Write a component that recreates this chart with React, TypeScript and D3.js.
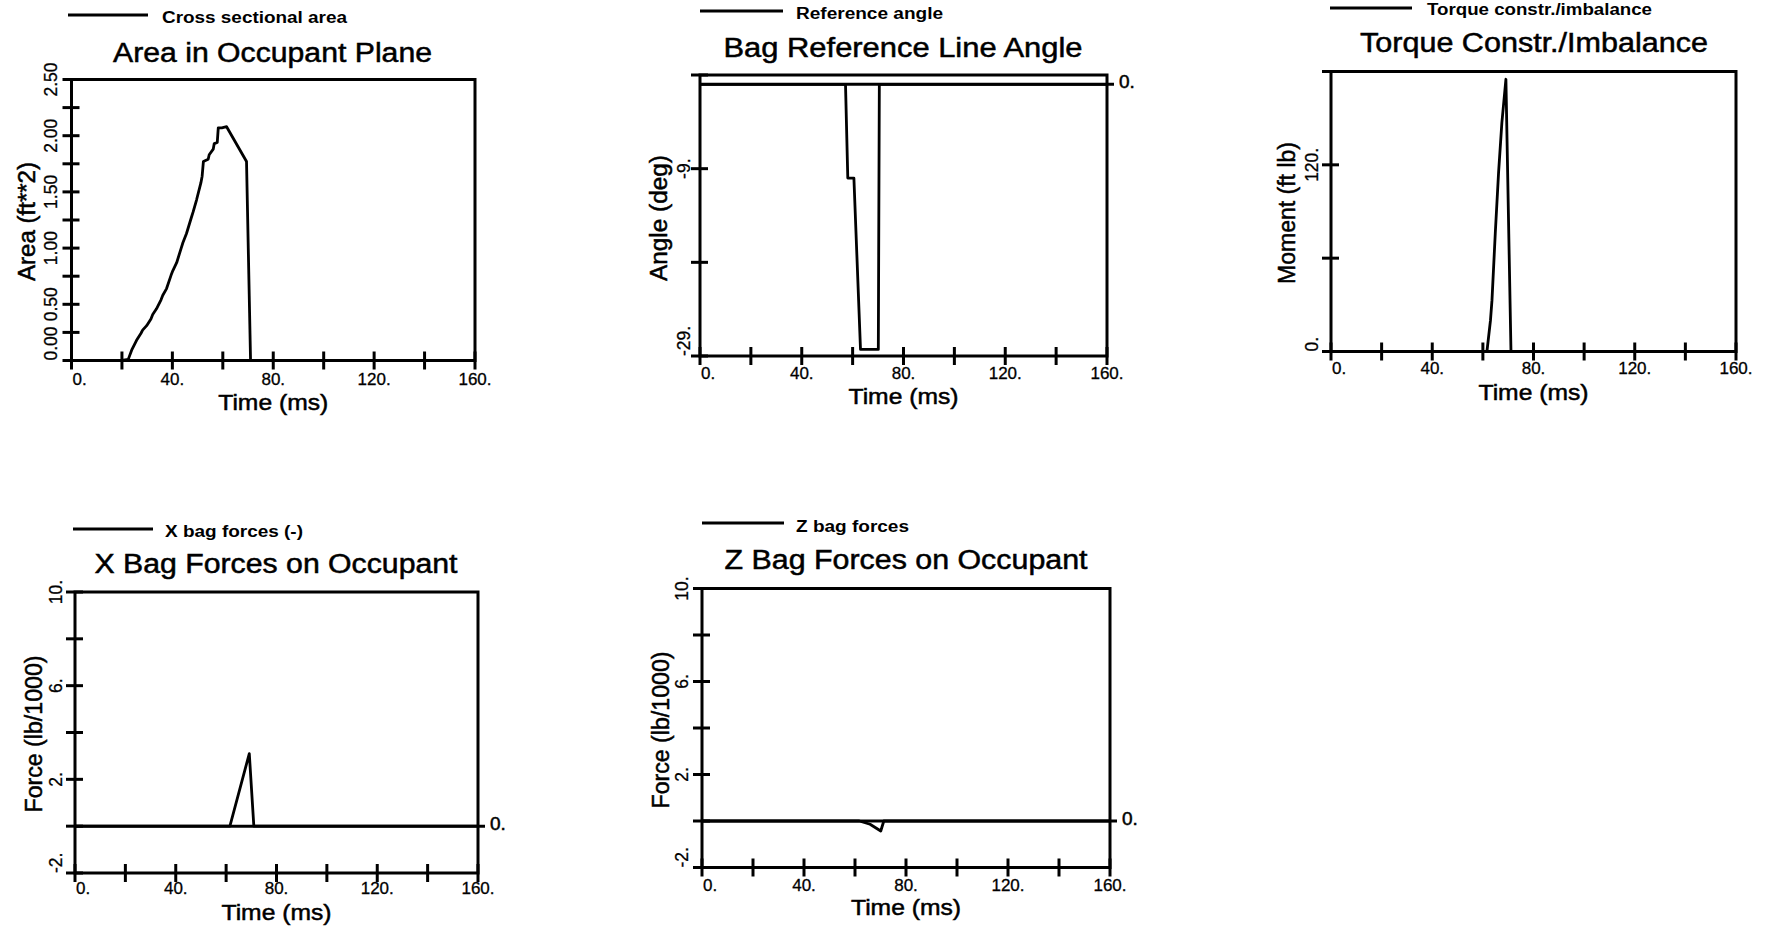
import React from "react";
import * as d3 from "d3";

// ---------- shared time axis ----------
const timeTicks = [0, 20, 40, 60, 80, 100, 120, 140, 160];
const timeLabelValues = [0, 40, 80, 120, 160];
const timeLabels = ["0.", "40.", "80.", "120.", "160."];

// ---------- Area in Occupant Plane ----------
const areaTime = [0, 20, 22.5, 24, 25.8, 27.5, 28.2, 29.8, 31.5, 32.2, 33.7, 35.5, 36.2, 37.7, 39.5, 40.2, 41.7, 43.5, 44.2, 45.6, 47.5, 48.2, 49.6, 51.3, 51.8, 52.3, 54.2, 54.6, 56.2, 56.6, 57.8, 58.2, 59.6, 61.5, 69.4, 71.0, 160];
const areaValue = [0, 0, 0.01, 0.1, 0.18, 0.24, 0.27, 0.31, 0.37, 0.41, 0.46, 0.54, 0.58, 0.64, 0.76, 0.8, 0.87, 1.0, 1.05, 1.13, 1.27, 1.32, 1.43, 1.58, 1.64, 1.77, 1.79, 1.83, 1.88, 1.93, 1.94, 2.07, 2.07, 2.08, 1.77, 0, 0];
const areaTicks = [0, 0.25, 0.5, 0.75, 1, 1.25, 1.5, 1.75, 2, 2.25, 2.5];
const areaLabelValues = [0, 0.5, 1, 1.5, 2, 2.5];
const areaLabels = ["0.00", "0.50", "1.00", "1.50", "2.00", "2.50"];

// ---------- Bag Reference Line Angle ----------
const angleTime = [0, 57.2, 58.1, 60.5, 63.1, 70.1, 70.5, 160];
const angleValue = [0, 0, -10, -10, -28.3, -28.3, 0, 0];
const angleTicks = [-29, -19, -9, 1];
const angleLabelValues = [-29, -9];
const angleLabels = ["-29.", "-9."];

// ---------- Torque Constr./Imbalance ----------
const torqueTime = [0, 61.6, 63.0, 63.6, 64.9, 66.2, 67.5, 69.1, 71.1, 160];
const torqueValue = [0, 0, 20, 33, 76, 115, 147, 175, 0, 0];
const torqueTicks = [0, 60, 120, 180];
const torqueLabelValues = [0, 120];
const torqueLabels = ["0.", "120."];

// ---------- X Bag Forces ----------
const xForceTime = [0, 61.5, 69.2, 71.0, 160];
const xForceValue = [0, 0, 3.1, 0, 0];

// ---------- Z Bag Forces ----------
const zForceTime = [0, 61.7, 65.9, 70.1, 71.3, 160];
const zForceValue = [0, 0, -0.14, -0.43, 0, 0];

const forceTicks = [-2, 0, 2, 4, 6, 8, 10];
const forceLabelValues = [-2, 2, 6, 10];
const forceLabels = ["-2.", "2.", "6.", "10."];

const FONT = "'Liberation Sans', Arial, Helvetica, sans-serif";

type PanelSpec = {
  left: number; right: number; top: number; bottom: number;
  yDomain: [number, number];
  t: number[]; v: number[];
  yTicks: number[]; yLabelValues: number[]; yLabels: string[];
  zeroRef: boolean;
  legend: { x1: number; x2: number; y: number; tx: number; ty: number; len: number; text: string };
  title: { x: number; y: number; len: number; text: string };
  yTitle: { x: number; y: number; len: number; text: string };
  xTitleY: number; xLabelY: number; yLabelX: number;
};

const panels: PanelSpec[] = [
  {
    left: 71.5, right: 475, top: 79.5, bottom: 360.5, yDomain: [0, 2.5],
    t: areaTime, v: areaValue, yTicks: areaTicks, yLabelValues: areaLabelValues, yLabels: areaLabels,
    zeroRef: false,
    legend: { x1: 68, x2: 148, y: 15, tx: 162, ty: 23, len: 185, text: "Cross sectional area" },
    title: { x: 272.5, y: 62, len: 319, text: "Area in Occupant Plane" },
    yTitle: { x: 35, y: 221.5, len: 119, text: "Area (ft**2)" },
    xTitleY: 410, xLabelY: 385, yLabelX: 57,
  },
  {
    left: 700, right: 1107, top: 75, bottom: 356, yDomain: [-29, 1],
    t: angleTime, v: angleValue, yTicks: angleTicks, yLabelValues: angleLabelValues, yLabels: angleLabels,
    zeroRef: true,
    legend: { x1: 700, x2: 783, y: 11, tx: 796, ty: 19, len: 147, text: "Reference angle" },
    title: { x: 903, y: 57, len: 359, text: "Bag Reference Line Angle" },
    yTitle: { x: 667, y: 218, len: 126, text: "Angle (deg)" },
    xTitleY: 404, xLabelY: 379, yLabelX: 690,
  },
  {
    left: 1331, right: 1736, top: 71.5, bottom: 351.5, yDomain: [0, 180],
    t: torqueTime, v: torqueValue, yTicks: torqueTicks, yLabelValues: torqueLabelValues, yLabels: torqueLabels,
    zeroRef: false,
    legend: { x1: 1330, x2: 1412, y: 8, tx: 1427, ty: 15, len: 225, text: "Torque constr./imbalance" },
    title: { x: 1534, y: 52, len: 348, text: "Torque Constr./Imbalance" },
    yTitle: { x: 1295, y: 213, len: 142, text: "Moment (ft lb)" },
    xTitleY: 400, xLabelY: 374, yLabelX: 1318,
  },
  {
    left: 75, right: 478, top: 592, bottom: 873, yDomain: [-2, 10],
    t: xForceTime, v: xForceValue, yTicks: forceTicks, yLabelValues: forceLabelValues, yLabels: forceLabels,
    zeroRef: true,
    legend: { x1: 73, x2: 153, y: 529, tx: 165, ty: 537, len: 138, text: "X bag forces (-)" },
    title: { x: 276, y: 573, len: 363, text: "X Bag Forces on Occupant" },
    yTitle: { x: 42, y: 734, len: 157, text: "Force (lb/1000)" },
    xTitleY: 920, xLabelY: 894, yLabelX: 62,
  },
  {
    left: 702, right: 1110, top: 588.5, bottom: 867.5, yDomain: [-2, 10],
    t: zForceTime, v: zForceValue, yTicks: forceTicks, yLabelValues: forceLabelValues, yLabels: forceLabels,
    zeroRef: true,
    legend: { x1: 702, x2: 784, y: 523, tx: 796, ty: 532, len: 113, text: "Z bag forces" },
    title: { x: 906, y: 569, len: 363, text: "Z Bag Forces on Occupant" },
    yTitle: { x: 669, y: 730, len: 157, text: "Force (lb/1000)" },
    xTitleY: 915, xLabelY: 891, yLabelX: 688,
  },
];

const inkStroke = { stroke: "#000", strokeWidth: 0.5 };

function Panel({ p }: { p: PanelSpec }) {
  const x = d3.scaleLinear().domain([0, 160]).range([p.left, p.right]);
  const y = d3.scaleLinear().domain(p.yDomain).range([p.bottom, p.top]);
  const line = d3
    .line<number>()
    .x((_, i) => x(p.t[i]))
    .y((d) => y(d));
  const cx = (p.left + p.right) / 2;
  const frame = `M${p.left},${p.top}L${p.right},${p.top}L${p.right},${p.bottom}L${p.left},${p.bottom}Z`;
  return (
    <g>
      {/* legend */}
      <line x1={p.legend.x1} x2={p.legend.x2} y1={p.legend.y} y2={p.legend.y} stroke="#000" strokeWidth={3} />
      <text x={p.legend.tx} y={p.legend.ty} fontSize={16} fontWeight="bold" fontFamily={FONT}
        textLength={p.legend.len} lengthAdjust="spacingAndGlyphs">{p.legend.text}</text>
      {/* title */}
      <text x={p.title.x} y={p.title.y} fontSize={27} textAnchor="middle" fontFamily={FONT}
        textLength={p.title.len} lengthAdjust="spacingAndGlyphs" {...inkStroke}>{p.title.text}</text>
      {/* frame */}
      <path d={frame} fill="none" stroke="#000" strokeWidth={3} />
      {/* y ticks */}
      {p.yTicks.map((v) => (
        <line key={"yt" + v} x1={p.left - 9} x2={p.left + 8} y1={y(v)} y2={y(v)} stroke="#000" strokeWidth={3} />
      ))}
      {/* x ticks */}
      {timeTicks.map((v) => (
        <line key={"xt" + v} x1={x(v)} x2={x(v)} y1={p.bottom - 9} y2={p.bottom + 9} stroke="#000" strokeWidth={3} />
      ))}
      {/* y tick labels (rotated) */}
      {p.yLabelValues.map((v, i) => {
        const first = i === 0;
        const py = first ? p.bottom : y(v);
        return (
          <text key={"yl" + v} transform={`translate(${p.yLabelX},${py}) rotate(-90)`}
            textAnchor={first ? "start" : "middle"} fontSize={17.5} fontFamily={FONT} {...inkStroke} strokeWidth={0.3}>
            {p.yLabels[i]}
          </text>
        );
      })}
      {/* x tick labels */}
      {timeLabelValues.map((v, i) => {
        const first = i === 0;
        return (
          <text key={"xl" + v} x={first ? p.left + 1 : x(v)} y={p.xLabelY}
            textAnchor={first ? "start" : "middle"} fontSize={17} fontFamily={FONT} {...inkStroke} strokeWidth={0.3}>
            {timeLabels[i]}
          </text>
        );
      })}
      {/* zero reference line */}
      {p.zeroRef && (
        <g>
          <line x1={p.left} x2={p.right + 7} y1={y(0)} y2={y(0)} stroke="#000" strokeWidth={3} />
          <text x={p.right + 12} y={y(0) + 4} fontSize={19} fontFamily={FONT} {...inkStroke}>0.</text>
        </g>
      )}
      {/* data */}
      <path d={line(p.v) || ""} fill="none" stroke="#000" strokeWidth={2.8} strokeLinejoin="round" />
      {/* axis titles */}
      <text x={cx} y={p.xTitleY} fontSize={22} textAnchor="middle" fontFamily={FONT}
        textLength={110} lengthAdjust="spacingAndGlyphs" {...inkStroke}>Time (ms)</text>
      <text transform={`translate(${p.yTitle.x},${p.yTitle.y}) rotate(-90)`} fontSize={23} textAnchor="middle"
        fontFamily={FONT} textLength={p.yTitle.len} lengthAdjust="spacingAndGlyphs" {...inkStroke}>{p.yTitle.text}</text>
    </g>
  );
}

export default function App() {
  return (
    <svg width={1765} height={929} viewBox="0 0 1765 929"
      style={{ position: "absolute", left: 0, top: 0, display: "block", background: "#fff" }}>
      <rect x={0} y={0} width={1765} height={929} fill="#fff" />
      {panels.map((p, i) => (
        <Panel key={i} p={p} />
      ))}
    </svg>
  );
}
